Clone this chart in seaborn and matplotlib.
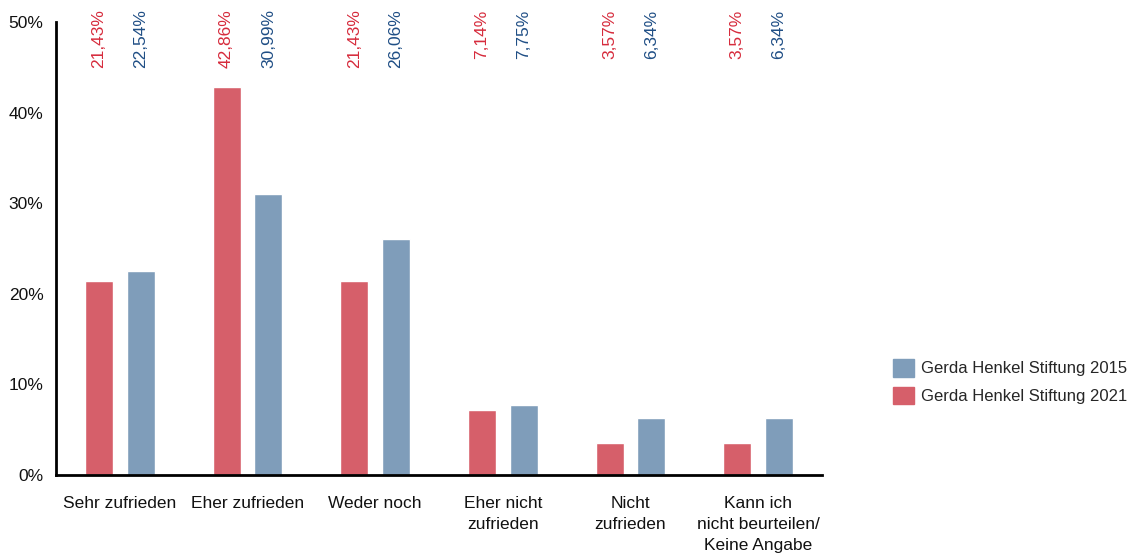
import matplotlib
matplotlib.use("Agg")
import matplotlib.pyplot as plt
import seaborn as sns
import pandas as pd
from matplotlib.patches import Patch
import matplotlib.transforms as mtransforms

categories = ["Sehr zufrieden", "Eher zufrieden", "Weder noch",
              "Eher nicht\nzufrieden", "Nicht\nzufrieden",
              "Kann ich\nnicht beurteilen/\nKeine Angabe"]
series_names = ["Gerda Henkel Stiftung 2021", "Gerda Henkel Stiftung 2015"]
values_2021 = [21.43, 42.86, 21.43, 7.14, 3.57, 3.57]
values_2015 = [22.54, 30.99, 26.06, 7.75, 6.34, 6.34]
yticks = [0, 10, 20, 30, 40, 50]

bar_colors = {"Gerda Henkel Stiftung 2021": "#D65F6A", "Gerda Henkel Stiftung 2015": "#7F9DBA"}
text_colors = {"Gerda Henkel Stiftung 2021": "#D62B3C", "Gerda Henkel Stiftung 2015": "#1F4E85"}

df = pd.DataFrame({
    "cat": categories * 2,
    "series": [series_names[0]] * 6 + [series_names[1]] * 6,
    "val": values_2021 + values_2015,
})

sns.set_theme(style="white")
plt.rcParams['font.family'] = ['Liberation Sans', 'DejaVu Sans']

FS = 12.5
fig = plt.figure(figsize=(11.36, 5.53), dpi=100)
ax = fig.add_axes([0.0493, 0.141, 0.6743, 0.819])

sns.barplot(data=df, x="cat", y="val", hue="series", hue_order=series_names,
            palette=bar_colors, width=0.656, gap=0.33, ax=ax, legend=False,
            saturation=1, errorbar=None)

ax.set_xlim(-0.5, 5.5)
ax.set_ylim(0, 50)
ax.set_yticks(yticks)
ax.set_yticklabels([f"{t}%" for t in yticks], fontsize=FS, color="#111111")
ax.set_xlabel("")
ax.set_ylabel("")
ax.tick_params(axis="x", length=0, pad=15, labelsize=FS, colors="#111111")
ax.tick_params(axis="y", length=0, pad=9)
for lbl in ax.get_xticklabels():
    lbl.set_linespacing(1.5)
    lbl.set_verticalalignment("top")

for s in ["top", "right"]:
    ax.spines[s].set_visible(False)
for s in ["left", "bottom"]:
    ax.spines[s].set_color("black")
    ax.spines[s].set_linewidth(2)

trans = mtransforms.blended_transform_factory(ax.transData, ax.transAxes)
offset = 0.164
for i in range(len(categories)):
    ax.text(i - offset, 1.028, f"{values_2021[i]:.2f}%".replace(".", ","), rotation=90,
            ha="center", va="top", fontsize=FS, color=text_colors[series_names[0]],
            transform=trans, clip_on=False)
    ax.text(i + offset, 1.028, f"{values_2015[i]:.2f}%".replace(".", ","), rotation=90,
            ha="center", va="top", fontsize=FS, color=text_colors[series_names[1]],
            transform=trans, clip_on=False)

handles = [Patch(color=bar_colors[series_names[1]]), Patch(color=bar_colors[series_names[0]])]
fig.legend(handles, [series_names[1], series_names[0]], loc="center left",
           bbox_to_anchor=(0.786, 0.31), frameon=False, fontsize=12,
           handlelength=1.25, handleheight=1.25, handletextpad=0.45, labelspacing=0.6,
           borderaxespad=0, borderpad=0)

fig.savefig("out.png", dpi=100)
